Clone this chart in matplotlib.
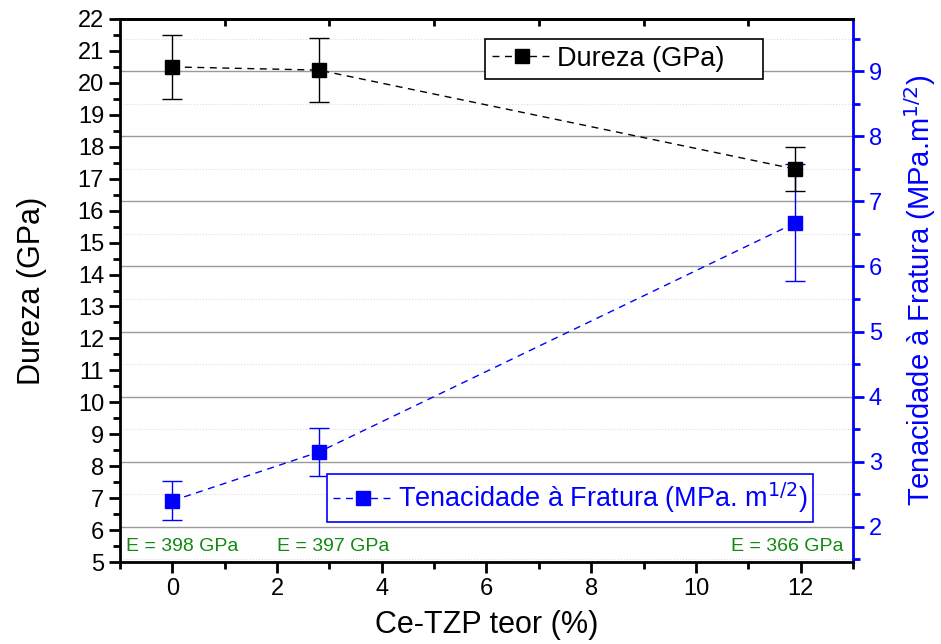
import matplotlib.pyplot as plt
from matplotlib.ticker import MultipleLocator

plt.rcParams['font.family'] = ['Liberation Sans', 'DejaVu Sans']

teor = [0, 2.8, 11.9]
dureza = [20.5, 20.4, 17.3]
dureza_err = [1.0, 1.0, 0.7]
tenacidade = [2.4, 3.15, 6.67]
tenacidade_err = [0.3, 0.37, 0.9]
modulo_labels = ['E = 398 GPa', 'E = 397 GPa', 'E = 366 GPa']
modulo_x = [-0.88, 1.99, 12.81]

blue = '#0000ff'
green = '#108a10'

fig = plt.figure(figsize=(9.41, 6.44), dpi=100)
ax1 = fig.add_axes([0.1275, 0.1273, 0.779, 0.8432])
ax2 = ax1.twinx()
ax1.set_zorder(ax2.get_zorder() + 1)
ax1.patch.set_visible(False)

# right axis (behind) with grid
eb2 = ax2.errorbar(teor, tenacidade, yerr=tenacidade_err, color=blue, ls=(0, (5, 4)), lw=1,
                   marker='s', ms=10, capsize=7, elinewidth=1, capthick=1)
ax2.set_ylim(1.46, 9.8)
ax2.yaxis.set_minor_locator(MultipleLocator(0.5))
ax2.set_yticks(range(2, 10))
ax2.grid(True, which='major', axis='y', color='#9a9a9a', lw=1)
ax2.grid(True, which='minor', axis='y', color='#dddddd', lw=0.8, ls=':')
ax2.tick_params(axis='y', which='both', colors=blue, labelsize=17, direction='out', width=2)
ax2.tick_params(axis='y', which='major', length=8)
ax2.tick_params(axis='y', which='minor', length=5)
ax2.spines['right'].set_color(blue)
ax2.spines['right'].set_linewidth(2)
ax2.spines['left'].set_visible(False)
ax2.spines['top'].set_visible(False)
ax2.spines['bottom'].set_visible(False)
ax2.set_ylabel('Tenacidade à Fratura (MPa.m$^{1/2}$)', color=blue, fontsize=21, labelpad=14)
leg2 = ax2.legend([eb2.lines[0]], ['Tenacidade à Fratura (MPa. m$^{1/2}$)'],
                  loc='upper left', bbox_to_anchor=(0.282, 0.0, 0.663, 0.162), mode='expand',
                  fancybox=False, edgecolor=blue, fontsize=19.5, handlelength=2.2,
                  handletextpad=0.2, borderpad=0.25, borderaxespad=0, labelcolor=blue,
                  framealpha=1)
leg2.get_frame().set_linewidth(1.2)

# left axis (front)
eb1 = ax1.errorbar(teor, dureza, yerr=dureza_err, color='black', ls=(0, (5, 4)), lw=1,
                   marker='s', ms=10, capsize=7, elinewidth=1, capthick=1)
ax1.set_xlim(-1, 13)
ax1.set_ylim(5, 22)
ax1.yaxis.set_major_locator(MultipleLocator(1))
ax1.yaxis.set_minor_locator(MultipleLocator(0.5))
ax1.xaxis.set_major_locator(MultipleLocator(2))
ax1.xaxis.set_minor_locator(MultipleLocator(1))
ax1.tick_params(which='both', labelsize=17, direction='out', width=2)
ax1.tick_params(which='major', length=8)
ax1.tick_params(which='minor', length=5)
for s in ['left', 'bottom', 'top']:
    ax1.spines[s].set_linewidth(2)
ax1.spines['right'].set_visible(False)
ax1.set_ylabel('Dureza (GPa)', fontsize=22, labelpad=22)
ax1.set_xlabel('Ce-TZP teor (%)', fontsize=22, labelpad=7)

top = ax1.secondary_xaxis('top')
top.set_xticks([1, 3, 5, 7, 9, 11])
top.tick_params(direction='in', length=5, width=2, labeltop=False)
top.spines['top'].set_linewidth(2)

for xt, txt, ha in zip(modulo_x, modulo_labels, ['left', 'left', 'right']):
    ax1.text(xt, 5.5, txt, color=green, fontsize=14, ha=ha, va='center')

leg1 = ax1.legend([eb1.lines[0]], ['Dureza (GPa)'],
                  loc='upper left', bbox_to_anchor=(0.498, 0.0, 0.379, 0.963), mode='expand',
                  fancybox=False, edgecolor='black', fontsize=19.5, handlelength=2.2,
                  handletextpad=0.2, borderpad=0.25, borderaxespad=0, framealpha=1)
leg1.get_frame().set_linewidth(1.2)

plt.savefig('out.png', dpi=100)
